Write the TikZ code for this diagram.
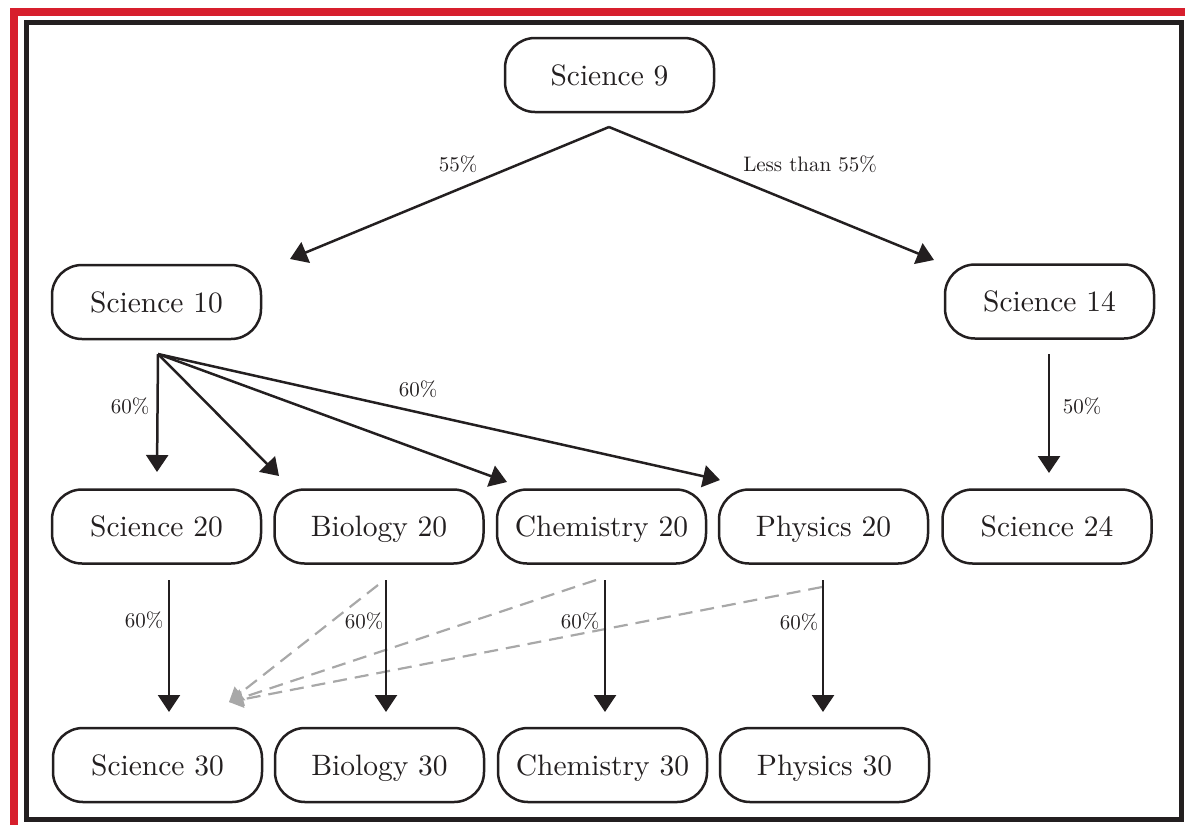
\documentclass[tikz,border=0pt]{standalone}
\usepackage{fontspec}
\newfontfamily\coursefont{lmroman10-regular.otf}
\usetikzlibrary{arrows.meta}
\definecolor{ink}{HTML}{231F20}
\definecolor{redband}{HTML}{D71F2D}
\definecolor{dashgray}{HTML}{A8A8A8}
\tikzset{
  course/.style={draw=ink, line width=2.5pt, rounded corners=30pt,
    minimum width=209pt, minimum height=74pt, inner sep=0pt,
    text height=20pt, text depth=0pt,
    text=ink, font=\coursefont\fontsize{29.5}{36}\selectfont},
  arr/.style={draw=ink, line width=2.5pt, -{Triangle[width=22pt,length=17pt]}},
  garr/.style={draw=dashgray, line width=2.2pt, dash pattern=on 14pt off 8pt,
    -{Triangle[width=17pt,length=14pt]}},
  lbl/.style={text=ink, font=\coursefont\fontsize{21}{26}\selectfont, inner sep=0pt}
}
\begin{document}
\begin{tikzpicture}[x=1pt,y=-1pt]
\useasboundingbox (0,0) rectangle (1185,825);
% borders
\fill[redband] (10,8) rectangle (1185,16);
\fill[redband] (10,8) rectangle (18,825);
\draw[ink, line width=5pt] (26.5,22.5) rectangle (1181.5,819.5);
% nodes
\node[course] (s9)  at (609.5,75)   {Science 9};
\node[course] (s10) at (156.5,302)  {Science 10};
\node[course] (s14) at (1049.5,301.5) {Science 14};
\node[course] (s20) at (156.5,526.5) {Science 20};
\node[course] (b20) at (379,526.5)  {Biology 20};
\node[course] (c20) at (601.5,526.5) {Chemistry 20};
\node[course] (p20) at (823.5,526.5) {Physics 20};
\node[course] (s24) at (1047,526.5) {Science 24};
\node[course] (s30) at (157.5,765)  {Science 30};
\node[course] (b30) at (379.5,765)  {Biology 30};
\node[course] (c30) at (602.5,765)  {Chemistry 30};
\node[course] (p30) at (824.5,765)  {Physics 30};
% connector ends
\coordinate (s9o) at (609,127);
\coordinate (t10) at (290,259);
\coordinate (t14) at (934,260);
\coordinate (s10o) at (158,354);
\coordinate (ts20) at (157,472);
\coordinate (tb20) at (279,476);
\coordinate (tc20) at (507,482);
\coordinate (tp20) at (720,480);
\coordinate (s14o) at (1049,354);
\coordinate (ts24) at (1049,473);
\coordinate (s20o) at (169,580);
\coordinate (ts30) at (169,712);
\coordinate (b20o) at (386,580);
\coordinate (tb30) at (386,712);
\coordinate (c20o) at (605,580);
\coordinate (tc30) at (605,712);
\coordinate (p20o) at (823,580);
\coordinate (tp30) at (823,712);
\coordinate (gb) at (378,585);
\coordinate (gc) at (596,580);
\coordinate (gp) at (822,587);
\coordinate (gt) at (229,702);
% dashed gray
\draw[garr] (gb) -- (gt);
\draw[garr] (gc) -- (gt);
\draw[garr] (gp) -- (gt);
% arrows
\draw[arr] (s9o) -- (t10);
\draw[arr] (s9o) -- (t14);
\draw[arr] (s10o) -- (ts20);
\draw[arr] (s10o) -- (tb20);
\draw[arr] (s10o) -- (tc20);
\draw[arr] (s10o) -- (tp20);
\draw[arr] (s14o) -- (ts24);
\draw[arr] (s20o) -- (ts30);
\draw[arr] (b20o) -- (tb30);
\draw[arr] (c20o) -- (tc30);
\draw[arr] (p20o) -- (tp30);
% labels
\node[lbl] (l55) at (458,164) {55\%};
\node[lbl] (lless) at (810,164) {Less than 55\%};
\node[lbl] (l10a) at (130,406) {60\%};
\node[lbl] (l10b) at (418,389) {60\%};
\node[lbl] (l14) at (1082,406) {50\%};
\node[lbl] (l20) at (144,620) {60\%};
\node[lbl] (lb20) at (364,621) {60\%};
\node[lbl] (lc20) at (580,621) {60\%};
\node[lbl] (lp20) at (799,622) {60\%};
\end{tikzpicture}
\end{document}
